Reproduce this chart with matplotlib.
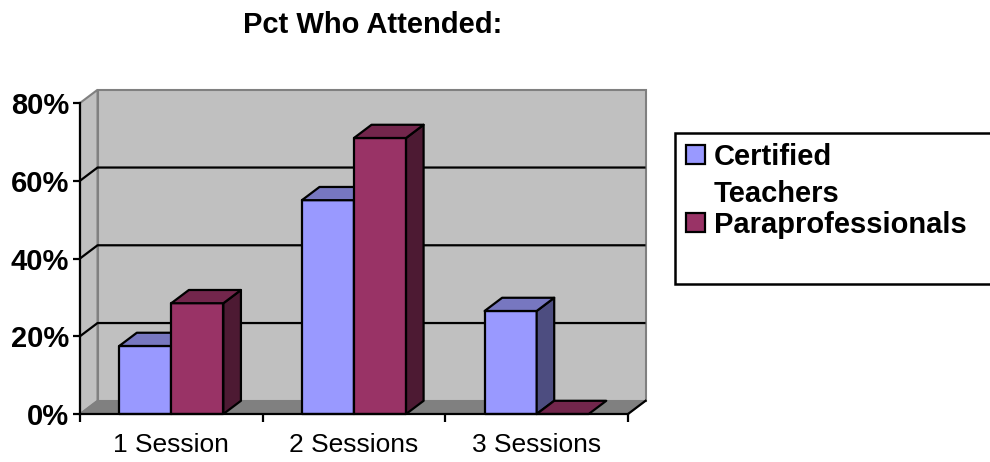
import matplotlib.pyplot as plt
from matplotlib.patches import Polygon, Rectangle
from matplotlib.ticker import FuncFormatter

plt.rcParams['font.family'] = ['Liberation Sans', 'DejaVu Sans']

# Attendance share by number of sessions
sessions = ['1 Session', '2 Sessions', '3 Sessions']
series_names = [['Certified', 'Teachers'], ['Paraprofessionals']]
certified = [17.5, 55, 26.5]
paraprof = [28.5, 71, 0]
y_ticks = [0, 20, 40, 60, 80]

front_colors = ['#9999FF', '#993366']
top_colors = ['#7777C0', '#73264C']
side_colors = ['#4D4D80', '#4D1A33']

# pseudo-3d depth offset in data units
dx, dy = 0.096, 3.4
bar_w = 0.285
gap = 0.215

W, H = 990, 462
fig = plt.figure(figsize=(W / 100, H / 100), dpi=100)
ax = fig.add_axes([80 / W, 48 / H, 548 / W, 311 / H])
ax.set_xlim(-0.5, 2.5)
ax.set_ylim(0, 80)
ax.patch.set_visible(False)

x0, x1 = -0.5, 2.5
ymax = y_ticks[-1]

# walls and floor
ax.add_patch(Polygon([(x0 + dx, dy), (x1 + dx, dy), (x1 + dx, ymax + dy), (x0 + dx, ymax + dy)],
                     facecolor='#C0C0C0', edgecolor='#808080', lw=1.5, zorder=0, clip_on=False))
ax.add_patch(Polygon([(x0, 0), (x0 + dx, dy), (x0 + dx, ymax + dy), (x0, ymax)],
                     facecolor='#C0C0C0', edgecolor='#808080', lw=1.5, zorder=0, clip_on=False))
ax.add_patch(Polygon([(x0, 0), (x1, 0), (x1 + dx, dy), (x0 + dx, dy)],
                     facecolor='#808080', edgecolor='#808080', lw=1, zorder=1, clip_on=False))

for v in y_ticks[1:-1]:
    ax.plot([x0, x0 + dx, x1 + dx], [v, v + dy, v + dy], color='black', lw=1.6,
            zorder=1.5, clip_on=False, solid_capstyle='butt')

# floor right edge
ax.plot([x1, x1 + dx], [0, dy], color='black', lw=1.6, zorder=2, clip_on=False)


def draw_bar(left, value, j):
    right = left + bar_w
    kw = dict(edgecolor='black', lw=1.6, zorder=3, clip_on=False, joinstyle='round')
    if value > 0:
        ax.add_patch(Rectangle((left, 0), bar_w, value, facecolor=front_colors[j], **kw))
        ax.add_patch(Polygon([(right, 0), (right + dx, dy), (right + dx, value + dy), (right, value)],
                             facecolor=side_colors[j], **kw))
    ax.add_patch(Polygon([(left, value), (right, value), (right + dx, value + dy), (left + dx, value + dy)],
                         facecolor=top_colors[j], **kw))


for i in range(len(sessions)):
    for j, vals in enumerate([certified, paraprof]):
        draw_bar(i - 0.5 + gap + j * bar_w, vals[i], j)

# axes styling
for s in ['top', 'right']:
    ax.spines[s].set_visible(False)
for s in ['left', 'bottom']:
    ax.spines[s].set_linewidth(1.6)
    ax.spines[s].set_zorder(4)

ax.set_yticks(y_ticks)
ax.yaxis.set_major_formatter(FuncFormatter(lambda v, p: f'{v:.0f}%'))
ax.tick_params(axis='y', length=5, width=1.6, pad=3, labelsize=21)
for lbl in ax.get_yticklabels():
    lbl.set_fontweight('bold')

ax.set_xticks(range(len(sessions)))
ax.set_xticklabels(sessions, fontsize=19)
ax.tick_params(axis='x', which='major', length=0, pad=14)
ax.set_xticks([-0.5, 0.5, 1.5, 2.5], minor=True)
ax.tick_params(axis='x', which='minor', length=6, width=1.6, direction='out')

fig.text(373 / W, 1 - 33 / H, 'Pct Who Attended:', ha='center', va='baseline',
         fontsize=21, fontweight='bold')

# legend box, drawn in pixel positions of the figure
fig.add_artist(Rectangle((675 / W, 1 - 284 / H), 330 / W, 151 / H,
                         transform=fig.transFigure, facecolor='white', edgecolor='black', lw=1.8))
key_tops = [145, 213]
for j, lines in enumerate(series_names):
    top = key_tops[j]
    fig.add_artist(Rectangle((686 / W, 1 - (top + 19) / H), 19 / W, 19 / H,
                             transform=fig.transFigure, facecolor=front_colors[j],
                             edgecolor='black', lw=1.6))
    for k, line in enumerate(lines):
        fig.text(714 / W, 1 - (top + 20 + 37 * k) / H, line, ha='left', va='baseline',
                 fontsize=21, fontweight='bold')

fig.savefig('out.png', dpi=100)
